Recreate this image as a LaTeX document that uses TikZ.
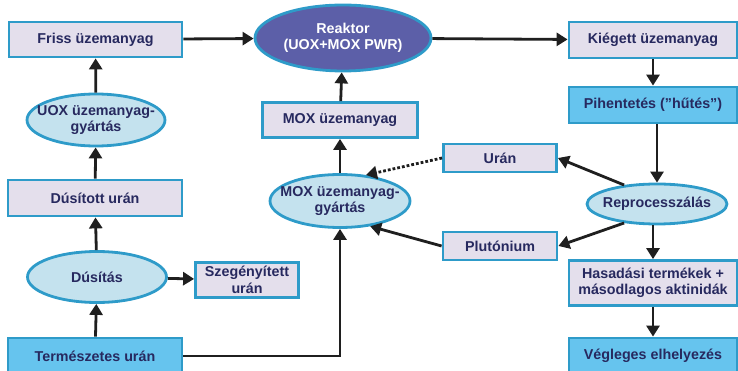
\documentclass[tikz,border=0pt]{standalone}
\usepackage{fontspec}
\setmainfont{Liberation Sans}
\usetikzlibrary{shapes.geometric,arrows.meta}

\definecolor{edge}{HTML}{2E9BC9}
\definecolor{boxfill}{HTML}{E4DFEC}
\definecolor{hotfill}{HTML}{66C4EE}
\definecolor{ovalfill}{HTML}{C4E2EE}
\definecolor{corefill}{HTML}{5C5FA8}
\definecolor{ink}{HTML}{27295F}

\tikzset{
  txt/.style={text=ink, align=center, inner sep=0pt,
    font=\bfseries\fontsize{14.3}{16.5}\selectfont},
  base/.style={draw=edge, line width=2.8pt, txt, inner sep=1pt},
  stepbox/.style={base, rectangle, fill=boxfill},
  hotbox/.style={base, rectangle, fill=hotfill},
  % ellipses keep a fixed size; their text sits in a centred label
  oval/.style={base, ellipse, fill=ovalfill, inner sep=0pt},
  core/.style={base, ellipse, fill=corefill, inner sep=0pt},
  mid/.style={txt},
  midw/.style={txt, text=white},
  flow/.style={line width=2.8pt, black!88, -{Triangle[length=11pt,width=13pt]}},
  weak/.style={flow, dotted}
}

\begin{document}
\begin{tikzpicture}[x=1pt, y=-1pt]
\useasboundingbox (0,0) rectangle (738,371);

% fresh fuel branch (left column)
\node[stepbox, minimum width=173pt, minimum height=35pt] (friss) at (95.5,39.5) {Friss üzemanyag};
\node[oval, minimum width=138pt, minimum height=52pt,
  label={[mid]center:{UOX üzemanyag-\\gyártás}}] (uox) at (96,120) {};
\node[stepbox, minimum width=174pt, minimum height=36pt] (dusitott) at (95,198) {Dúsított urán};
\node[oval, minimum width=139pt, minimum height=51pt,
  label={[mid]center:{Dúsítás}}] (dusitas) at (97,277) {};
\node[stepbox, minimum width=103pt, minimum height=35pt] (szeg) at (247,280) {Szegényített\\urán};
\node[hotbox, minimum width=174pt, minimum height=36pt] (termesz) at (95,356) {Természetes urán};

% reactor and MOX branch (middle column)
\node[core, minimum width=176pt, minimum height=66pt,
  label={[midw]center:{Reaktor\\(UOX+MOX PWR)}}] (reaktor) at (343,38) {};
\node[stepbox, minimum width=155pt, minimum height=35pt] (mox) at (340,120) {MOX üzemanyag};
\node[oval, minimum width=140pt, minimum height=53pt,
  label={[mid]center:{MOX üzemanyag-\\gyártás}}] (moxgy) at (340,201) {};
\node[stepbox, minimum width=113pt, minimum height=28pt] (uran) at (500,158) {Urán};
\node[stepbox, minimum width=114pt, minimum height=28pt] (pluto) at (500,246) {Plutónium};

% back end (right column)
\node[stepbox, minimum width=168pt, minimum height=36pt] (kieg) at (653,40) {Kiégett üzemanyag};
\node[hotbox, minimum width=168pt, minimum height=36pt] (pihen) at (653,105) {Pihentetés (''hűtés'')};
\node[oval, minimum width=140pt, minimum height=40pt,
  label={[mid]center:{Reprocesszálás}}] (repro) at (657,204) {};
\node[stepbox, minimum width=168pt, minimum height=45pt] (hasad) at (653,283) {Hasadási termékek +\\másodlagos aktinidák};
\node[hotbox, minimum width=168pt, minimum height=36pt] (vegleg) at (653,356) {Végleges elhelyezés};

% connectors
\draw[flow] (termesz) -- (dusitas);
\draw[flow] (dusitas) -- (dusitott);
\draw[flow] (dusitas) -- (szeg);
\draw[flow] (dusitott) -- (uox);
\draw[flow] (uox) -- (friss);
\draw[flow] (friss) -- (reaktor);
\draw[flow] (reaktor) -- (kieg);
\draw[flow] (kieg) -- (pihen);
\draw[flow] (pihen.south -| repro.north) -- (repro);
\draw[flow] (repro.south -| hasad.north) -- (hasad);
\draw[flow] (hasad) -- (vegleg);
\draw[flow] (repro.150) -- (uran.east);
\draw[flow] (repro.210) -- (pluto.east);
\draw[weak] (uran.west) -- (moxgy.45);
\draw[flow] (pluto.west) -- (moxgy.-40);
\draw[flow] (moxgy) -- (mox);
\draw[flow] (mox) -- (reaktor);
\draw[flow] (termesz.east) -| (moxgy.south);
\end{tikzpicture}
\end{document}
